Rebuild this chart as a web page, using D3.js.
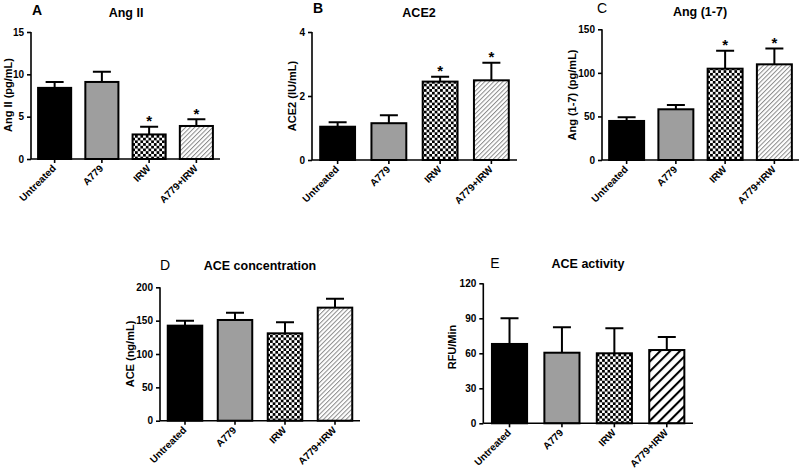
<!DOCTYPE html>
<html><head><meta charset="utf-8">
<script src="https://cdn.jsdelivr.net/npm/d3@7/dist/d3.min.js"></script>
<style>
body{margin:0;background:#fff;}
svg{display:block;font-family:"Liberation Sans",Arial,sans-serif;}
</style></head>
<body><svg id="chart" width="800" height="473"></svg>
<script>
// ---- data ----
const categories = ["Untreated", "A779", "IRW", "A779+IRW"];
const angIIMean = [8.4, 9.1, 2.9, 3.9];
const angIISem  = [0.7, 1.2, 0.9, 0.8];
const angIISig  = [false, false, true, true];
const angIITicks = [0, 5, 10, 15];

const ace2Mean = [1.04, 1.15, 2.45, 2.49];
const ace2Sem  = [0.14, 0.25, 0.15, 0.55];
const ace2Sig  = [false, false, true, true];
const ace2Ticks = [0, 2, 4];

const ang17Mean = [44.8, 58.2, 104.8, 109.8];
const ang17Sem  = [4.2, 4.8, 20.6, 18.2];
const ang17Sig  = [false, false, true, true];
const ang17Ticks = [0, 50, 100, 150];

const aceConcMean = [142.5, 151, 131, 169.5];
const aceConcSem  = [7.5, 11, 16.6, 13.5];
const aceConcTicks = [0, 50, 100, 150, 200];

const aceActMean = [68, 60.5, 60, 62.8];
const aceActSem  = [22, 21.8, 21.4, 11.2];
const aceActTicks = [0, 30, 60, 90, 120];

// ---- drawing ----
const svg = d3.select("#chart");
const defs = svg.append("defs");

const checker = defs.append("pattern").attr("id","checker").attr("patternUnits","userSpaceOnUse")
  .attr("width",5.4).attr("height",5.4);
checker.append("rect").attr("width",5.4).attr("height",5.4).attr("fill","#fff");
checker.append("rect").attr("width",2.7).attr("height",2.7).attr("fill","#000");
checker.append("rect").attr("x",2.7).attr("y",2.7).attr("width",2.7).attr("height",2.7).attr("fill","#000");

const hatchLight = defs.append("pattern").attr("id","hatchLight").attr("patternUnits","userSpaceOnUse")
  .attr("width",3.2).attr("height",3.2).attr("patternTransform","rotate(45)");
hatchLight.append("rect").attr("width",3.2).attr("height",3.2).attr("fill","#fff");
hatchLight.append("line").attr("x1",0).attr("y1",0).attr("x2",0).attr("y2",3.2)
  .attr("stroke","#8a8a8a").attr("stroke-width",2);

const hatchBold = defs.append("pattern").attr("id","hatchBold").attr("patternUnits","userSpaceOnUse")
  .attr("width",7).attr("height",7).attr("patternTransform","rotate(45)");
hatchBold.append("rect").attr("width",7).attr("height",7).attr("fill","#fff");
hatchBold.append("line").attr("x1",0).attr("y1",0).attr("x2",0).attr("y2",7)
  .attr("stroke","#000").attr("stroke-width",4.2);

function panel(o) {
  const g = svg.append("g");
  const x = d3.scaleBand().domain(categories).range([o.x0, o.x1]).paddingInner(o.pad).paddingOuter(o.pad/2);
  const y = d3.scaleLinear().domain([0, d3.max(o.ticks)]).range([o.yb, o.yt]);
  const fills = ["#000", "#9e9e9e", "url(#checker)", o.hatch];
  const rows = categories.map((c,i)=>({c, m:o.mean[i], s:o.sem[i], sig:o.sig?o.sig[i]:false, i}));
  const cx = d => x(d.c) + x.bandwidth()/2;

  // bars
  g.selectAll("rect.bar").data(rows).join("rect").attr("class","bar")
    .attr("x",d=>x(d.c)).attr("width",x.bandwidth())
    .attr("y",d=>y(d.m)).attr("height",d=>y(0)-y(d.m))
    .attr("fill",d=>fills[d.i]).attr("stroke","#000").attr("stroke-width",2);
  // error bars
  const cap = 9;
  g.selectAll("path.err").data(rows).join("path").attr("class","err")
    .attr("d",d=>{const t=y(d.m+d.s);
      return `M${cx(d)},${y(d.m)}V${t}M${cx(d)-cap},${t}H${cx(d)+cap}`;})
    .attr("stroke","#000").attr("stroke-width",2).attr("fill","none");
  // stars
  g.selectAll("text.star").data(rows.filter(d=>d.sig)).join("text").attr("class","star")
    .attr("x",cx).attr("y",d=>y(d.m+d.s)-0.5)
    .attr("text-anchor","middle").attr("font-size",15).attr("font-weight","bold").text("*");

  // axes
  const ya = g.append("g").attr("transform",`translate(${o.x0},0)`)
    .call(d3.axisLeft(y).tickValues(o.ticks).tickSize(4).tickPadding(3).tickFormat(d3.format("d")));
  const xa = g.append("g").attr("transform",`translate(0,${o.yb})`)
    .call(d3.axisBottom(x).tickSize(4).tickSizeOuter(0).tickPadding(3));
  [ya, xa].forEach(a=>{
    a.selectAll("path.domain").attr("stroke","#000").attr("stroke-width",1.6);
    a.selectAll(".tick line").attr("stroke","#000").attr("stroke-width",1.6);
    a.selectAll("text").attr("font-family","Liberation Sans, Arial, sans-serif")
      .attr("font-size",10).attr("font-weight","bold").attr("fill","#000");
  });
  ya.select("path.domain").attr("d",`M0,${o.yb}V${o.yt}`);
  xa.select("path.domain").attr("d",`M${o.x0},0H${o.x1}`);
  xa.selectAll(".tick text").attr("text-anchor","end").attr("dy",0)
    .attr("transform","translate(2,10) rotate(-45)").attr("y",0).attr("x",0);

  // titles
  g.append("text").attr("x",o.lx).attr("y",o.ly).attr("font-size",14)
    .attr("font-weight",o.lbold?"bold":"normal").attr("text-anchor","middle").text(o.letter);
  g.append("text").attr("x",o.tx).attr("y",o.ty).attr("font-size",12.5)
    .attr("font-weight","bold").attr("text-anchor","middle").text(o.title);
  g.append("text").attr("transform",`translate(${o.yx},${o.yy}) rotate(-90)`)
    .attr("font-size",11).attr("font-weight","bold").attr("text-anchor","middle")
    .attr("dominant-baseline","central").text(o.ylabel);
}

panel({x0:31, x1:220, yb:159, yt:32, pad:0.3, ticks:angIITicks, mean:angIIMean, sem:angIISem, sig:angIISig,
  hatch:"url(#hatchLight)", letter:"A", lbold:true, lx:37, ly:15, title:"Ang II", tx:126, ty:17,
  ylabel:"Ang II (pg/mL)", yx:8, yy:95});
panel({x0:312, x1:517, yb:160, yt:32, pad:0.32, ticks:ace2Ticks, mean:ace2Mean, sem:ace2Sem, sig:ace2Sig,
  hatch:"url(#hatchLight)", letter:"B", lbold:true, lx:318, ly:13, title:"ACE2", tx:419, ty:17,
  ylabel:"ACE2 (IU/mL)", yx:292, yy:96});
panel({x0:602, x1:799, yb:160, yt:29.3, pad:0.29, ticks:ang17Ticks, mean:ang17Mean, sem:ang17Sem, sig:ang17Sig,
  hatch:"url(#hatchLight)", letter:"C", lbold:false, lx:602, ly:13, title:"Ang (1-7)", tx:700, ty:16,
  ylabel:"Ang (1-7) (pg/mL)", yx:572, yy:95});
panel({x0:160, x1:360, yb:420.7, yt:287.3, pad:0.31, ticks:aceConcTicks, mean:aceConcMean, sem:aceConcSem, sig:null,
  hatch:"url(#hatchLight)", letter:"D", lbold:false, lx:165, ly:270, title:"ACE concentration", tx:260, ty:270,
  ylabel:"ACE (ng/mL)", yx:130, yy:354});
panel({x0:483.3, x1:693, yb:423.3, yt:283.3, pad:0.33, ticks:aceActTicks, mean:aceActMean, sem:aceActSem, sig:null,
  hatch:"url(#hatchBold)", letter:"E", lbold:false, lx:495, ly:268, title:"ACE activity", tx:588, ty:268,
  ylabel:"RFU/Min", yx:452, yy:347});
</script></body></html>
